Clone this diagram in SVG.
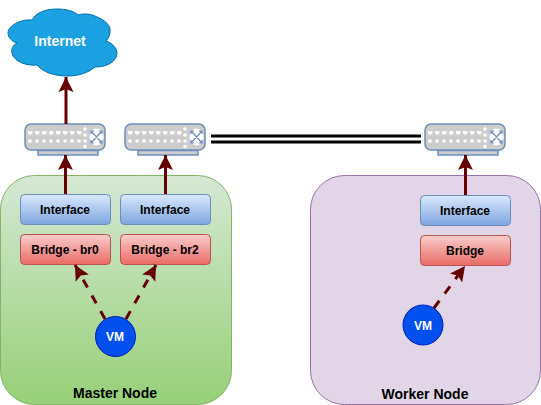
<svg xmlns="http://www.w3.org/2000/svg" width="541" height="405" viewBox="0 0 541 405">
<style>
text{font-family:"Liberation Sans",Arial,sans-serif;font-size:12px;font-weight:bold;text-anchor:middle;fill:#000}
.big{font-size:14px}
.w{fill:#fff}
.box{stroke-width:1}
.if{fill:url(#gb);stroke:#6c8ebf}
.br{fill:url(#gr);stroke:#b85450}
.vm{fill:#0050ef;stroke:#001dbc}
.a{fill:none;stroke:#660000;stroke-width:3}
.d{stroke-dasharray:9 9}
.l{fill:none;stroke:#000;stroke-width:3}
.sw{fill:#ccc;stroke:#6c8ebf;stroke-width:1.500}
</style>
<defs>
<linearGradient id="gb" x1="0" y1="0" x2="0" y2="1"><stop offset="0" stop-color="#dae8fc"/><stop offset="1" stop-color="#7ea6e0"/></linearGradient>
<linearGradient id="gr" x1="0" y1="0" x2="0" y2="1"><stop offset="0" stop-color="#f8cecc"/><stop offset="1" stop-color="#ea6b66"/></linearGradient>
<linearGradient id="gg" x1="0" y1="0" x2="0" y2="1"><stop offset="0" stop-color="#d5e8d4"/><stop offset="1" stop-color="#97d077"/></linearGradient>
<marker id="ah" markerUnits="userSpaceOnUse" markerWidth="17" markerHeight="17" refX="15" refY="8" orient="auto"><path d="M0,0.500 L15,8 L0,15.500 L3,8 Z" fill="#660000"/></marker>
<g id="switch">
<path class="sw" d="M13,26.500H73V31H13Z"/>
<rect class="sw" x="0" y="0" width="80" height="26" rx="6"/>
<g fill="#fff">
<path d="M3,7h4.500v2l-1,1.500h-2.500l-1,-1.500zM10,7h4.500v2l-1,1.500h-2.500l-1,-1.500zM17,7h4.500v2l-1,1.500h-2.500l-1,-1.500zM24,7h4.500v2l-1,1.500h-2.500l-1,-1.500zM31,7h4.500v2l-1,1.500h-2.500l-1,-1.500zM38,7h4.500v2l-1,1.500h-2.500l-1,-1.500zM45,7h4.500v2l-1,1.500h-2.500l-1,-1.500zM52,7h4.500v2l-1,1.500h-2.500l-1,-1.500z"/>
<circle cx="5" cy="17" r="1.800"/><circle cx="12" cy="17" r="1.800"/><circle cx="19" cy="17" r="1.800"/><circle cx="26" cy="17" r="1.800"/><circle cx="33" cy="17" r="1.800"/><circle cx="40" cy="17" r="1.800"/><circle cx="47" cy="17" r="1.800"/><circle cx="54" cy="17" r="1.800"/>
<circle cx="60" cy="5" r="1.800"/><circle cx="60" cy="11" r="1.800"/><circle cx="60" cy="17" r="1.800"/><circle cx="60" cy="22.500" r="1.800"/>
<ellipse cx="71.500" cy="13" rx="7" ry="8.500"/>
</g>
<path d="M66.500,7.500L76.500,18.500M76.500,7.500L66.500,18.500M66,10V7H69M74,7H77V10M66,16V19H69M74,19H77V16" stroke="#6c8ebf" stroke-width="1.200" fill="none"/>
</g>
</defs>

<g id="master-node">
<rect x="0.500" y="175.500" width="231" height="229" rx="34" fill="url(#gg)" stroke="#82b366"/>
<text class="big" x="115" y="398">Master Node</text>
</g>
<g id="worker-node">
<rect x="310.500" y="175.500" width="230" height="229" rx="34" fill="#e1d5e7" stroke="#9673a6"/>
<text class="big" x="425" y="399">Worker Node</text>
</g>

<g id="internet">
<path d="M32,20 C36,12 47,9 57,9 C66,9 74,11 78,15 C84,13 92,14 97,17 C105,20 111,26 110,31 C110,35 109,38 106,41 C112,43 117,48 117,53 C117,61 108,67 95,67 C88,73 78,76 67,76 C54,76 43,72 37,65 C27,66 14,62 12,53 C11,49 13,45 17,43 C11,41 8,37 8,33 C8,26 20,19 32,20Z" fill="#1ba1e2" stroke="#006eaf"/>
<text class="w big" x="60" y="46">Internet</text>
</g>
<g id="switch-1"><use href="#switch" x="25" y="124"/></g>
<g id="switch-2"><use href="#switch" x="125" y="124"/></g>
<g id="switch-3"><use href="#switch" x="425" y="124"/></g>

<g id="interface-1"><rect class="box if" x="20.500" y="194.500" width="90" height="30" rx="4"/><text x="65" y="214">Interface</text></g>
<g id="interface-2"><rect class="box if" x="120.500" y="194.500" width="90" height="30" rx="4"/><text x="165" y="214">Interface</text></g>
<g id="interface-3"><rect class="box if" x="420.500" y="195.500" width="90" height="30" rx="4"/><text x="465" y="215">Interface</text></g>
<g id="bridge-br0"><rect class="box br" x="20.500" y="234.500" width="90" height="30" rx="4"/><text x="65" y="254">Bridge - br0</text></g>
<g id="bridge-br2"><rect class="box br" x="120.500" y="234.500" width="90" height="30" rx="4"/><text x="165" y="254">Bridge - br2</text></g>
<g id="bridge"><rect class="box br" x="420.500" y="235.500" width="90" height="30" rx="4"/><text x="465" y="255">Bridge</text></g>
<g id="vm-1"><circle class="vm" cx="115.500" cy="336.500" r="20"/><text class="w" x="115" y="341">VM</text></g>
<g id="vm-2"><circle class="vm" cx="423" cy="325" r="20"/><text class="w" x="423" y="330">VM</text></g>

<g id="connectors">
<path class="a" d="M66,124V77" marker-end="url(#ah)"/>
<path class="a" d="M65.500,194V155" marker-end="url(#ah)"/>
<path class="a" d="M165.500,194V155" marker-end="url(#ah)"/>
<path class="a" d="M465.500,195V155" marker-end="url(#ah)"/>
<path class="l" d="M211,136H421M211,142H421"/>
<path class="a d" d="M105,319L75,265" marker-end="url(#ah)"/>
<path class="a d" d="M126,319L156,265" marker-end="url(#ah)"/>
<path class="a d" d="M434,308L465,266" marker-end="url(#ah)"/>
</g>
</svg>
